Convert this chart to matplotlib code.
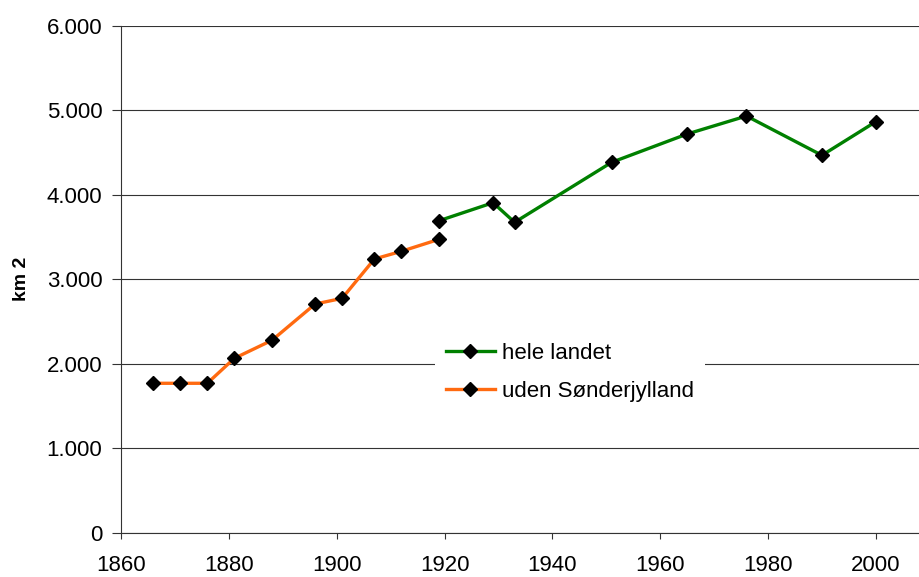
import matplotlib.pyplot as plt
import matplotlib.ticker as ticker

plt.rcParams['font.family'] = ['Liberation Sans', 'DejaVu Sans']

# hele landet
years_hele = [1919, 1929, 1933, 1951, 1965, 1976, 1990, 2000]
km2_hele = [3690, 3903, 3671, 4381, 4716, 4929, 4464, 4862]

# uden Sønderjylland
years_uden = [1866, 1871, 1876, 1881, 1888, 1896, 1901, 1907, 1912, 1919]
km2_uden = [1766, 1766, 1766, 2061, 2275, 2704, 2771, 3237, 3328, 3470]

x_ticks = [1860, 1880, 1900, 1920, 1940, 1960, 1980, 2000]
y_ticks = [0, 1000, 2000, 3000, 4000, 5000, 6000]

fig = plt.figure(figsize=(9.19, 5.77), dpi=100)
ax = fig.add_axes([0.1317, 0.0771, 0.8683, 0.8787])

ax.plot(years_hele, km2_hele, color='#008000', lw=2.4, marker='D',
        markersize=7.5, markerfacecolor='black', markeredgecolor='black',
        label='hele landet', zorder=3)
ax.plot(years_uden, km2_uden, color='#FF6A10', lw=2.4, marker='D',
        markersize=7.5, markerfacecolor='black', markeredgecolor='black',
        label='uden Sønderjylland', zorder=3)

ax.set_xlim(1860, 2008)
ax.set_ylim(0, 6000)
ax.set_xticks(x_ticks)
ax.set_yticks(y_ticks)

# danish thousands separator
ax.yaxis.set_major_formatter(ticker.FuncFormatter(
    lambda v, p: '{:,.0f}'.format(v).replace(',', '.')))

ax.grid(axis='y', color='#333333', lw=0.8)
ax.set_axisbelow(True)
for s in ['top', 'right']:
    ax.spines[s].set_visible(False)
ax.spines['left'].set_color('#333333')
ax.spines['bottom'].set_color('#333333')
ax.tick_params(axis='y', length=6.5, color='#333333', labelsize=16, pad=7)
ax.tick_params(axis='x', length=4, color='#333333', labelsize=16, pad=12)

ax.set_ylabel('km 2', fontsize=14, fontweight='bold', labelpad=12)

leg = ax.legend(loc='upper left', bbox_to_anchor=(0.379, 0.418), fontsize=16,
                frameon=True, fancybox=False, edgecolor='none', framealpha=1,
                handlelength=2.2, handletextpad=0.35, labelspacing=0.78,
                borderpad=0.5)

fig.savefig('out.png', dpi=100)
